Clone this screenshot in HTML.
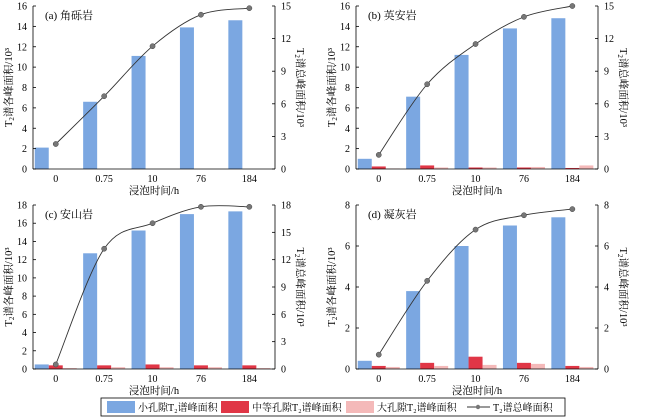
<!DOCTYPE html>
<html><head><meta charset="utf-8"><style>
body{margin:0;background:#fff;}
svg{display:block;font-family:"Liberation Serif","Noto Serif CJK SC",serif;}
</style></head><body>
<svg id="s" width="650" height="417" xmlns="http://www.w3.org/2000/svg"></svg>
<script>
const S=document.getElementById('s');let h='';
const P=[
 {x0:33,x1:275,y0:6,y1:169,title:"(a) 角砾岩",L:16,Ls:2,R:15,Rs:3,sm:[2.1,6.6,11.1,13.9,14.6],md:[0,0,0,0,0],lg:[0,0,0,0,0],ln:[2.3,6.7,11.3,14.2,14.8]},
 {x0:356,x1:598,y0:6,y1:169,title:"(b) 英安岩",L:16,Ls:2,R:15,Rs:3,sm:[1.0,7.1,11.2,13.8,14.8],md:[0.25,0.35,0.15,0.15,0.1],lg:[0.05,0.15,0.15,0.2,0.35],ln:[1.3,7.8,11.5,14.0,15.0]},
 {x0:33,x1:275,y0:205,y1:369,title:"(c) 安山岩",L:18,Ls:2,R:18,Rs:3,sm:[0.5,12.7,15.2,17.0,17.3],md:[0.4,0.4,0.5,0.4,0.4],lg:[0.1,0.2,0.2,0.2,0.1],ln:[0.5,13.2,16.0,17.8,17.8]},
 {x0:356,x1:598,y0:205,y1:369,title:"(d) 凝灰岩",L:8,Ls:2,R:8,Rs:2,sm:[0.4,3.8,6.0,7.0,7.4],md:[0.15,0.3,0.6,0.3,0.15],lg:[0.1,0.15,0.2,0.25,0.1],ln:[0.7,4.3,6.8,7.5,7.8]}
];
const cats=["0","0.75","10","76","184"];
for(const p of P){
 const W=p.x1-p.x0,H=p.y1-p.y0,step=W/5;
 const yl=v=>p.y1-v/p.L*H, yr=v=>p.y1-v/p.R*H;
 const cx=i=>p.x0+step*(i+0.47);
 cats.forEach((c,i)=>{
  const c0=cx(i);
  [[p.sm,"#7ba7e1",-21],[p.md,"#e03646",-7],[p.lg,"#f4b9b9",7]].forEach(([a,col,o])=>{
   if(a[i]>0)h+=`<rect x="${c0+o}" y="${yl(a[i])}" width="14" height="${p.y1-yl(a[i])}" fill="${col}"/>`;});
  h+=`<text x="${c0}" y="${p.y1+13}" font-size="10" text-anchor="middle">${c}</text>`;
 });
 h+=`<line x1="${p.x0}" y1="${p.y0}" x2="${p.x0}" y2="${p.y1}" stroke="#000" stroke-width="0.8"/>`;
 h+=`<line x1="${p.x1}" y1="${p.y0}" x2="${p.x1}" y2="${p.y1}" stroke="#000" stroke-width="0.8"/>`;
 h+=`<line x1="${p.x0}" y1="${p.y1}" x2="${p.x1}" y2="${p.y1}" stroke="#000" stroke-width="0.8"/>`;
 for(let v=0;v<=p.L;v+=p.Ls){const y=yl(v);h+=`<line x1="${p.x0}" y1="${y}" x2="${p.x0+3}" y2="${y}" stroke="#000" stroke-width="0.8"/><text x="${p.x0-6}" y="${y+3.5}" font-size="10" text-anchor="end">${v}</text>`;}
 for(let v=0;v<=p.R;v+=p.Rs){const y=yr(v);h+=`<line x1="${p.x1-3}" y1="${y}" x2="${p.x1}" y2="${y}" stroke="#000" stroke-width="0.8"/><text x="${p.x1+6}" y="${y+3.5}" font-size="10">${v}</text>`;}
 h+=`<text x="${p.x0+12}" y="${p.y0+13}" font-size="11">${p.title}</text>`;
 h+=`<text x="${(p.x0+p.x1)/2}" y="${p.y1+25}" font-size="10.5" text-anchor="middle">浸泡时间/h</text>`;
 const my=(p.y0+p.y1)/2;
 h+=`<text transform="translate(${p.x0-21},${my}) rotate(-90)" font-size="10.5" text-anchor="middle">T<tspan font-size="7" dy="2">2</tspan><tspan dy="-2">谱各峰面积/10³</tspan></text>`;
 h+=`<text transform="translate(${p.x1+22},${my}) rotate(90)" font-size="10.5" text-anchor="middle">T<tspan font-size="7" dy="2">2</tspan><tspan dy="-2">谱总峰面积/10³</tspan></text>`;
 const pts=p.ln.map((v,i)=>[cx(i),yr(v)]);
 let d=`M${pts[0][0]},${pts[0][1]}`;
 for(let i=0;i<pts.length-1;i++){const a=pts[i-1]||pts[i],b=pts[i],c=pts[i+1],e=pts[i+2]||c;
  d+=` C${b[0]+(c[0]-a[0])/6},${b[1]+(c[1]-a[1])/6} ${c[0]-(e[0]-b[0])/6},${c[1]-(e[1]-b[1])/6} ${c[0]},${c[1]}`;}
 h+=`<path d="${d}" fill="none" stroke="#333" stroke-width="0.9"/>`;
 pts.forEach(q=>h+=`<circle cx="${q[0]}" cy="${q[1]}" r="2.6" fill="#777" stroke="#444" stroke-width="0.5"/>`);
}
h+=`<rect x="101" y="398" width="464" height="18" fill="#fff" stroke="#000" stroke-width="0.8"/>`;
h+=`<rect x="107" y="401" width="28" height="12" fill="#7ba7e1"/><text x="138" y="411" font-size="10">小孔隙T₂谱峰面积</text>`;
h+=`<rect x="221" y="401" width="28" height="12" fill="#e03646"/><text x="252" y="411" font-size="10">中等孔隙T₂谱峰面积</text>`;
h+=`<rect x="346" y="401" width="28" height="12" fill="#f4b9b9"/><text x="377" y="411" font-size="10">大孔隙T₂谱峰面积</text>`;
h+=`<line x1="467" y1="407" x2="490" y2="407" stroke="#333"/><circle cx="478" cy="407" r="2.2" fill="#777"/><text x="493" y="411" font-size="10">T₂谱总峰面积</text>`;
S.innerHTML=h;
</script>
</body></html>
